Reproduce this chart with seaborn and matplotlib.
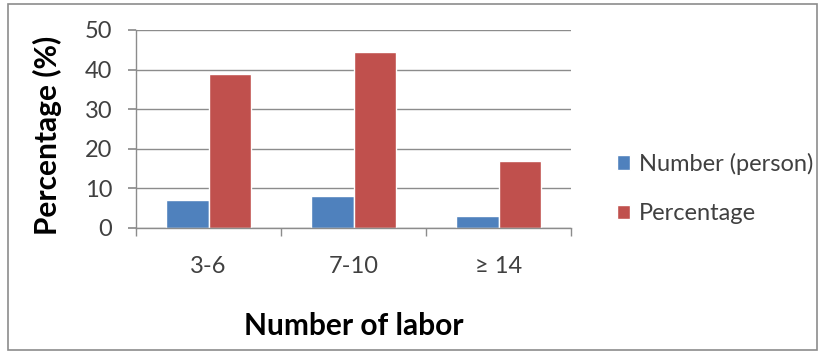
import matplotlib
matplotlib.use("Agg")
import matplotlib.pyplot as plt
import seaborn as sns
import pandas as pd
from matplotlib.patches import Rectangle

# Data
categories = ["3-6", "7-10", "\u2265 14"]
number_person = [7, 8, 3]
percentage = [39, 44.5, 17]
series_names = ["Number (person)", "Percentage"]
colors = ["#4F81BD", "#C0504D"]

df = pd.DataFrame({
    "labor": categories * 2,
    "value": number_person + percentage,
    "series": [series_names[0]] * len(categories) + [series_names[1]] * len(categories),
})

sns.set_theme(style="white")
plt.rcParams["font.family"] = ["Lato", "DejaVu Sans"]

fig = plt.figure(figsize=(8.27, 3.53), dpi=100)
ax = fig.add_axes([136 / 827, 1 - 228 / 353, (571 - 136) / 827, (228 - 30) / 353])

sns.barplot(data=df, x="labor", y="value", hue="series", palette=colors,
            width=0.58, dodge=True, saturation=1, ax=ax, legend=True)

ax.set_ylim(0, 50)
ax.set_xlim(-0.5, 2.5)
ax.set_yticks(range(0, 51, 10))
ax.yaxis.grid(True, color="#8c8c8c", linewidth=1)
ax.set_axisbelow(True)
for side in ["top", "right"]:
    ax.spines[side].set_visible(False)
for side in ["left", "bottom"]:
    ax.spines[side].set_color("#8c8c8c")
    ax.spines[side].set_linewidth(1)

ax.tick_params(axis="y", which="both", left=True, length=6, color="#8c8c8c",
               labelsize=17, labelcolor="#404040", pad=11)
ax.tick_params(axis="x", which="major", bottom=False, labelsize=17,
               labelcolor="#404040", pad=14)
ax.set_xticks([-0.5, 0.5, 1.5, 2.5], minor=True)
ax.tick_params(axis="x", which="minor", bottom=True, length=6, color="#8c8c8c")

ax.set_ylabel("Percentage (%)", fontsize=21.5, fontweight="bold", color="black")
ax.set_xlabel("Number of labor", fontsize=21.5, fontweight="bold", color="black")
ax.yaxis.set_label_coords(-74 / 435, 0.47)
ax.xaxis.set_label_coords(0.5, -84 / 198)

leg = ax.legend(loc="center left", bbox_to_anchor=(472 / 435, 0.2), frameon=False,
                fontsize=17, handlelength=0.55, handleheight=0.55, handletextpad=0.35,
                labelspacing=1.2, borderaxespad=0)
for t in leg.get_texts():
    t.set_color("#404040")

# Chart frame
fig.patches.append(Rectangle((8 / 827, 3 / 353), 809 / 827, 346 / 353,
                             transform=fig.transFigure, fill=False,
                             edgecolor="#8c8c8c", linewidth=1.2))

fig.savefig("out.png", dpi=100, facecolor="white")
